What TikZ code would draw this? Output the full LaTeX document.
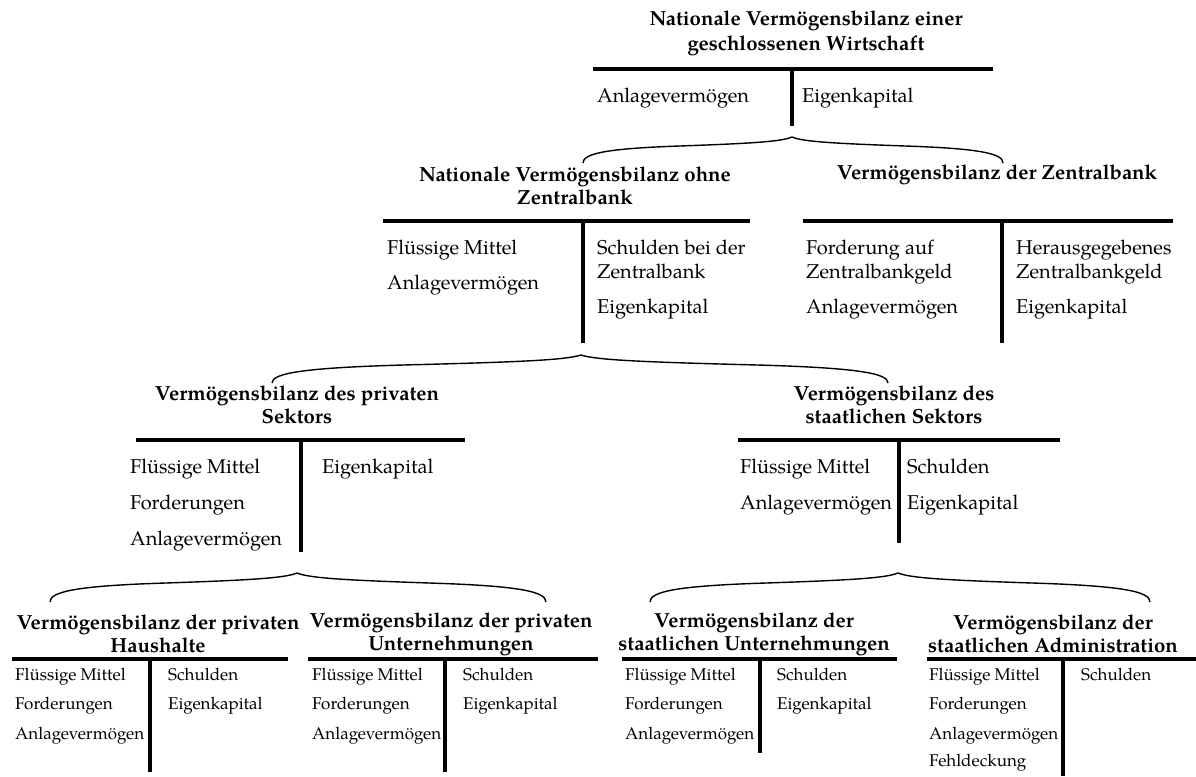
\documentclass[tikz,border=0pt]{standalone}
\usepackage{fontspec}
\setmainfont{TeX Gyre Pagella}
\tikzset{
  ttl/.style={font=\fontsize{20.4}{23}\selectfont\bfseries, align=center, inner sep=0pt},
  itm/.style={font=\fontsize{20}{24}\selectfont, anchor=west, inner sep=0pt, text height=14.4pt, text depth=5.6pt},
  sitm/.style={font=\fontsize{17}{20}\selectfont, anchor=west, inner sep=0pt, text height=12.2pt, text depth=4.8pt},
  tline/.style={line width=3.2pt},
  brc/.style={line width=1.4pt},
}
% brace: #1 left end, #2 apex, #3 right end (named coordinates), #4 height, #5 left width, #6 right width
\newcommand\acctbrace[6]{%
  \draw[brc] (#1) .. controls ($(#1)+(0,-0.35*#4)$) and ($(#1)+(0.1*#5,-0.55*#4)$) .. ($(#1)+(0.45*#5,-0.65*#4)$)
    .. controls ($(#1)+(0.8*#5,-0.75*#4)$) and ($(#1)+(0.95*#5,-0.82*#4)$) .. (#2)
    .. controls ($(#3)+(-0.95*#6,-0.82*#4)$) and ($(#3)+(-0.8*#6,-0.75*#4)$) .. ($(#3)+(-0.45*#6,-0.65*#4)$)
    .. controls ($(#3)+(-0.1*#6,-0.55*#4)$) and ($(#3)+(0,-0.35*#4)$) .. (#3);}
\usetikzlibrary{calc}
\begin{document}
\begin{tikzpicture}[x=1pt,y=-1pt]
\useasboundingbox (0,0) rectangle (1196,776);

% ---------- top account ----------
\node[ttl, font=\fontsize{20.4}{25}\selectfont\bfseries] (t0) at (806,33) {Nationale Vermögensbilanz einer\\geschlossenen Wirtschaft};
\coordinate (r0a) at (593,69); \coordinate (r0b) at (993,69);
\coordinate (v0a) at (792,69); \coordinate (v0b) at (792,126);
\draw[tline] (r0a) -- (r0b); \draw[tline] (v0a) -- (v0b);
\node[itm] (t0l1) at (597,98) {Anlagevermögen};
\node[itm] (t0r1) at (802,98) {Eigenkapital};

% ---------- level 2 left ----------
\node[ttl] (a1) at (575,186) {Nationale Vermögensbilanz ohne\\Zentralbank};
\coordinate (r1a) at (383,221); \coordinate (r1b) at (750,221);
\coordinate (v1a) at (583,221); \coordinate (v1b) at (583,343);
\draw[tline] (r1a) -- (r1b); \draw[tline] (v1a) -- (v1b);
\node[itm] (a1l1) at (387,250) {Flüssige Mittel};
\node[itm] (a1l2) at (387,285) {Anlagevermögen};
\node[itm] (a1r1) at (597,250) {Schulden bei der};
\node[itm] (a1r2) at (597,274) {Zentralbank};
\node[itm] (a1r3) at (597,309) {Eigenkapital};

% ---------- level 2 right ----------
\node[ttl] (a2) at (997,175) {Vermögensbilanz der Zentralbank};
\coordinate (r2a) at (803,221); \coordinate (r2b) at (1173,221);
\coordinate (v2a) at (1002,221); \coordinate (v2b) at (1002,343);
\draw[tline] (r2a) -- (r2b); \draw[tline] (v2a) -- (v2b);
\node[itm] (a2l1) at (806,250) {Forderung auf};
\node[itm] (a2l2) at (806,274) {Zentralbankgeld};
\node[itm] (a2l3) at (806,309) {Anlagevermögen};
\node[itm] (a2r1) at (1016,250) {Herausgegebenes};
\node[itm] (a2r2) at (1016,274) {Zentralbankgeld};
\node[itm] (a2r3) at (1016,309) {Eigenkapital};

% ---------- level 3 left ----------
\node[ttl] (b1) at (297,405) {Vermögensbilanz des privaten\\Sektors};
\coordinate (r3a) at (136,440); \coordinate (r3b) at (465,440);
\coordinate (v3a) at (301,440); \coordinate (v3b) at (301,552);
\draw[tline] (r3a) -- (r3b); \draw[tline] (v3a) -- (v3b);
\node[itm] (b1l1) at (130,469) {Flüssige Mittel};
\node[itm] (b1l2) at (130,505) {Forderungen};
\node[itm] (b1l3) at (130,541) {Anlagevermögen};
\node[itm] (b1r1) at (322,469) {Eigenkapital};

% ---------- level 3 right ----------
\node[ttl] (b2) at (894,405) {Vermögensbilanz des\\staatlichen Sektors};
\coordinate (r4a) at (738,440); \coordinate (r4b) at (1060,440);
\coordinate (v4a) at (899,440); \coordinate (v4b) at (899,543);
\draw[tline] (r4a) -- (r4b); \draw[tline] (v4a) -- (v4b);
\node[itm] (b2l1) at (740,469) {Flüssige Mittel};
\node[itm] (b2l2) at (740,505) {Anlagevermögen};
\node[itm] (b2r1) at (907,469) {Schulden};
\node[itm] (b2r2) at (907,505) {Eigenkapital};

% ---------- level 4: private Haushalte ----------
\node[ttl] (c1) at (158,634) {Vermögensbilanz der privaten\\Haushalte};
\coordinate (r5a) at (12,659); \coordinate (r5b) at (288,659);
\coordinate (v5a) at (150,659); \coordinate (v5b) at (150,772);
\draw[tline] (r5a) -- (r5b); \draw[tline] (v5a) -- (v5b);
\node[sitm] (c1l1) at (15,677) {Flüssige Mittel};
\node[sitm] (c1l2) at (15,706) {Forderungen};
\node[sitm] (c1l3) at (15,736) {Anlagevermögen};
\node[sitm] (c1r1) at (168,677) {Schulden};
\node[sitm] (c1r2) at (168,706) {Eigenkapital};

% ---------- level 4: private Unternehmungen ----------
\node[ttl] (c2) at (451,634) {Vermögensbilanz der privaten\\Unternehmungen};
\coordinate (r6a) at (308,659); \coordinate (r6b) at (598,659);
\coordinate (v6a) at (445,659); \coordinate (v6b) at (445,772);
\draw[tline] (r6a) -- (r6b); \draw[tline] (v6a) -- (v6b);
\node[sitm] (c2l1) at (312,677) {Flüssige Mittel};
\node[sitm] (c2l2) at (312,706) {Forderungen};
\node[sitm] (c2l3) at (312,736) {Anlagevermögen};
\node[sitm] (c2r1) at (463,677) {Schulden};
\node[sitm] (c2r2) at (463,706) {Eigenkapital};

% ---------- level 4: staatliche Unternehmungen ----------
\node[ttl] (c3) at (754,634) {Vermögensbilanz der\\staatlichen Unternehmungen};
\coordinate (r7a) at (622,659); \coordinate (r7b) at (897,659);
\coordinate (v7a) at (760,659); \coordinate (v7b) at (760,753);
\draw[tline] (r7a) -- (r7b); \draw[tline] (v7a) -- (v7b);
\node[sitm] (c3l1) at (625,677) {Flüssige Mittel};
\node[sitm] (c3l2) at (625,706) {Forderungen};
\node[sitm] (c3l3) at (625,736) {Anlagevermögen};
\node[sitm] (c3r1) at (777,677) {Schulden};
\node[sitm] (c3r2) at (777,706) {Eigenkapital};

% ---------- level 4: staatliche Administration ----------
\node[ttl] (c4) at (1053,634) {Vermögensbilanz der\\staatlichen Administration};
\coordinate (r8a) at (927,659); \coordinate (r8b) at (1196,659);
\coordinate (v8a) at (1063,659); \coordinate (v8b) at (1063,776);
\draw[tline] (r8a) -- (r8b); \draw[tline] (v8a) -- (v8b);
\node[sitm] (c4l1) at (929,677) {Flüssige Mittel};
\node[sitm] (c4l2) at (929,706) {Forderungen};
\node[sitm] (c4l3) at (929,736) {Anlagevermögen};
\node[sitm] (c4l4) at (929,763) {Fehldeckung};
\node[sitm] (c4r1) at (1081,677) {Schulden};

% ---------- braces ----------
\coordinate (k0a) at (583,163); \coordinate (k0m) at (792,137); \coordinate (k0b) at (1003,163);
\acctbrace{k0a}{k0m}{k0b}{26}{209}{211}
\coordinate (k1a) at (272,383); \coordinate (k1m) at (581,355); \coordinate (k1b) at (888,383);
\acctbrace{k1a}{k1m}{k1b}{28}{309}{307}
\coordinate (k2a) at (50,602); \coordinate (k2m) at (297,573); \coordinate (k2b) at (546,602);
\acctbrace{k2a}{k2m}{k2b}{29}{247}{249}
\coordinate (k3a) at (650,602); \coordinate (k3m) at (898,573); \coordinate (k3b) at (1150,602);
\acctbrace{k3a}{k3m}{k3b}{29}{248}{252}
\end{tikzpicture}
\end{document}
